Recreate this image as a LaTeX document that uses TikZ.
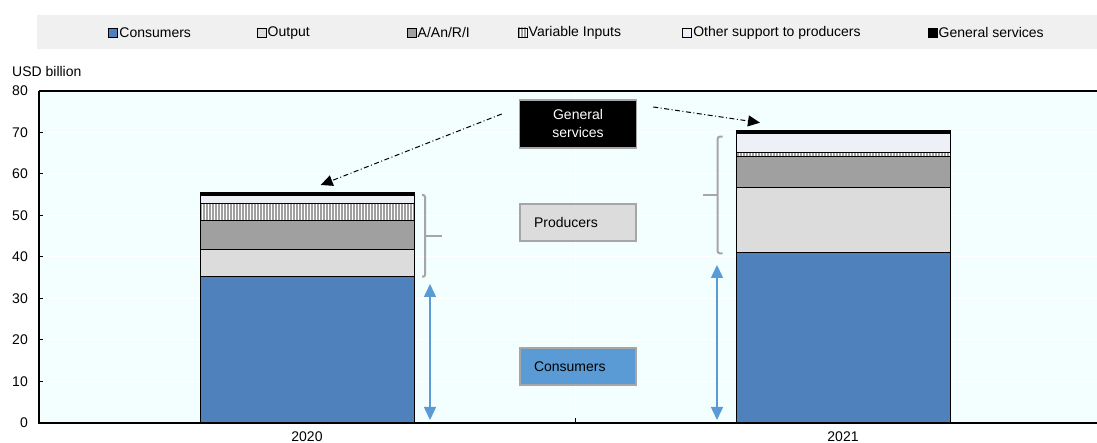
\documentclass[tikz,border=0pt]{standalone}
\usepackage{fontspec}
\setmainfont{Liberation Sans}
\usetikzlibrary{arrows.meta, calc, positioning, patterns.meta}
\definecolor{plotbg}{HTML}{F3FEFF}
\definecolor{legbg}{HTML}{F0F0F0}
\definecolor{consblue}{HTML}{4F81BD}
\definecolor{outgray}{HTML}{DCDCDC}
\definecolor{aangray}{HTML}{A0A0A0}
\definecolor{othlav}{HTML}{EEF0F8}
\definecolor{boxblue}{HTML}{5B9BD5}
\definecolor{boxedge}{HTML}{A6A6A6}
\tikzset{
	txt/.style={font=\fontsize{14}{16}\selectfont, inner sep=1pt},
	cons/.style={draw=black, line width=0.8pt, fill=consblue},
	outp/.style={draw=black, line width=0.8pt, fill=outgray},
	aanri/.style={draw=black, line width=0.8pt, fill=aangray},
	varin/.style={draw=black, line width=0.8pt, preaction={fill=white},
		pattern={Lines[angle=90,distance=3pt,line width=1.4pt]}, pattern color=aangray},
	other/.style={draw=black, line width=0.8pt, fill=othlav},
	gensv/.style={draw=black, line width=0.8pt, fill=black},
	grid/.style={white, line width=1pt},
	axis/.style={black, line width=1.5pt},
	brace/.style={draw=boxedge, line width=2pt, rounded corners=2pt},
	gsarrow/.style={-{Triangle[length=12pt,width=11pt]}, line width=1pt,
		dash pattern=on 5pt off 2.5pt on 1pt off 2.5pt},
	conarrow/.style={{Triangle[length=13pt,width=12pt]}-{Triangle[length=13pt,width=12pt]},
		draw=boxblue, fill=boxblue, line width=1.5pt},
	gsbox/.style={
		rectangle,
		draw=boxedge, line width=1.5pt,
		fill=black, text=white,
		font=\fontsize{14}{18}\selectfont,
		align=center, inner sep=0pt,
		minimum width=117pt, minimum height=48pt
	},
	probox/.style={
		rectangle,
		draw=boxedge, line width=2pt,
		fill=outgray, text=black,
		font=\fontsize{14}{16}\selectfont,
		text width=88pt, inner xsep=14pt, inner ysep=0pt,
		align=left, minimum height=37pt
	},
	conbox/.style={probox, fill=boxblue}
}

\begin{document}
\begin{tikzpicture}[x=1pt,y=1pt]

	\def\vs{4.15}
	\useasboundingbox (-39,-20) rectangle (1058,423);

	%% legend
	\fill[legbg] (-2,374) rectangle (1058,408);
	\foreach \lx/\sty/\ltxt [count=\i] in {69.7/cons/Consumers, 218/outp/Output, 368/aanri/{A/An/R/I},
		479/varin/Variable Inputs, 643.6/other/Other support to producers, 889/gensv/General services}
	{
		\draw[\sty] (\lx,386) rectangle ++(9,9);
		\node[txt, anchor=west] (leg\i) at (\lx+9.5,390) {\ltxt};
	}

	%% plot area
	\fill[plotbg] (0,0) rectangle (1058,80*\vs);
	\foreach \v in {10,20,...,70}
		\draw[grid] (0,\v*\vs) -- (1058,\v*\vs);
	\draw[grid] (536,0) -- (536,80*\vs);

	%% bars
	\foreach \yb/\yt/\sty in {0/35.25/cons, 35.25/41.86/outp, 41.86/48.92/aanri,
		48.92/53.0/varin, 53.0/54.77/other, 54.77/55.5/gensv}
		\draw[\sty] (161,\yb*\vs) rectangle (375,\yt*\vs);
	\foreach \yb/\yt/\sty in {0/41.1/cons, 41.1/56.7/outp, 56.7/64.3/aanri,
		64.3/65.2/varin, 65.2/69.7/other, 69.7/70.4/gensv}
		\draw[\sty] (697,\yb*\vs) rectangle (911,\yt*\vs);

	%% axes
	\draw[axis] (0,80*\vs) -- (0,0) -- (1058,0);
	\draw[axis] (0,80*\vs) -- (1058,80*\vs);
	\foreach \v in {0,10,...,80}
	{
		\draw[line width=1pt] (0,\v*\vs) -- (4,\v*\vs);
		\node[txt, anchor=east] (ytick\v) at (-10,\v*\vs) {\v};
	}
	\draw[line width=1pt] (536,0) -- (536,5);
	\node[txt] (year2020) at (268,-14) {2020};
	\node[txt] (year2021) at (804,-14) {2021};
	\node[txt, anchor=west] (unit) at (-28,351) {USD billion};

	%% annotation boxes
	\node[gsbox] (gsbox) at (539,299) {General\\services};
	\node[probox, below=54pt of gsbox] (probox) {Producers};
	\node[conbox, below=105pt of probox] (conbox) {Consumers};

	\coordinate (gsleft)  at ($(gsbox.west)+(-17,10)$);
	\coordinate (gsright) at ($(gsbox.east)+(16,17)$);
	\coordinate (top2020) at (281.7,238);
	\coordinate (top2021) at (721,300.3);
	\draw[gsarrow] (gsleft) -- (top2020);
	\draw[gsarrow] (gsright) -- (top2021);

	%% producers brackets
	\draw[brace] (383,228) -- (386,228) -- (386,146.3) -- (383,146.3);
	\draw[brace] (386,187.3) -- (402.7,187.3);
	\draw[brace] (683.7,286.3) -- (678.7,286.3) -- (678.7,169.7) -- (683.7,169.7);
	\draw[brace] (678.7,227.7) -- (663.7,227.7);

	%% consumers arrows
	\coordinate (cons2020t) at (391,139);
	\coordinate (cons2020b) at (391,3);
	\coordinate (cons2021t) at (678,158);
	\coordinate (cons2021b) at (678,3);
	\draw[conarrow] (cons2020t) -- (cons2020b);
	\draw[conarrow] (cons2021t) -- (cons2021b);

\end{tikzpicture}
\end{document}
